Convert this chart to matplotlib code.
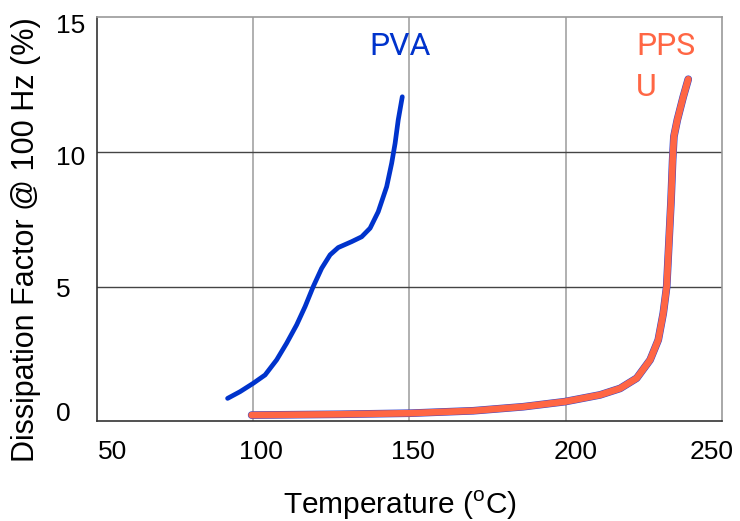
import matplotlib.pyplot as plt
import matplotlib.transforms as mtransforms

# PVA dissipation factor vs temperature
pva_temp = [91.8, 95.8, 100.0, 103.8, 107.5, 110.7, 113.9, 116.6, 119.2, 121.9, 124.6, 127.2,
            131.5, 134.7, 137.4, 140.0, 142.7, 144.3, 145.4, 146.4, 147.7]
pva_df = [0.85, 1.10, 1.41, 1.72, 2.28, 2.90, 3.58, 4.26, 5.00, 5.68, 6.18, 6.45,
          6.67, 6.85, 7.17, 7.78, 8.71, 9.58, 10.32, 11.19, 12.05]

# PPSU dissipation factor vs temperature
ppsu_temp = [99.5, 127.8, 150.2, 170.4, 186.4, 199.8, 211.0, 217.4, 222.7, 227.0, 229.6, 231.2,
             232.3, 233.0, 233.7, 234.2, 234.6, 235.7, 237.6, 239.2]
ppsu_df = [0.23, 0.26, 0.30, 0.39, 0.54, 0.73, 0.98, 1.22, 1.60, 2.28, 3.02, 4.01,
           5.00, 6.61, 8.22, 9.70, 10.57, 11.19, 12.05, 12.70]

x_ticks = [50, 100, 150, 200, 250]
y_ticks = [0, 5, 10, 15]

plt.rcParams['font.family'] = ['Liberation Sans', 'DejaVu Sans']

fig = plt.figure(figsize=(7.4, 5.21), dpi=100)
ax = fig.add_axes([0.131, 0.1914, 0.8447, 0.7754])

ax.plot(pva_temp, pva_df, color='#0033cc', lw=3.4, solid_capstyle='round',
        solid_joinstyle='round', zorder=3)
ax.plot(ppsu_temp, ppsu_df, color='#3344cc', lw=5.5, solid_capstyle='round',
        solid_joinstyle='round', zorder=3)
ax.plot(ppsu_temp, ppsu_df, color='#ff6644', lw=4.8, solid_capstyle='round',
        solid_joinstyle='round', zorder=4)

ax.set_xlim(50, 250)
ax.set_ylim(0, 15)
ax.set_xticks(x_ticks)
ax.set_yticks(y_ticks)
ax.tick_params(length=0, labelbottom=False, labelleft=False)

# tick labels drawn by hand, the original has them slightly off-centre
x_nudge = [16, 8, 3, 10, -10]
for v, dx in zip(x_ticks, x_nudge):
    tr = mtransforms.offset_copy(ax.get_xaxis_transform(), fig, x=dx, y=-31, units='dots')
    ax.text(v, 0, str(v), transform=tr, fontsize=19, ha='center', va='center')

y_nudge = [7, -3, -6, -9]
for v, dy in zip(y_ticks, y_nudge):
    tr = mtransforms.offset_copy(ax.get_yaxis_transform(), fig, x=-41, y=dy, units='dots')
    ax.text(0, v, str(v), transform=tr, fontsize=19, ha='left', va='center')

for v in x_ticks[1:-1]:
    ax.axvline(v, color='#aaaaaa', lw=1.3, zorder=1)
for v in y_ticks[1:-1]:
    ax.axhline(v, color='#444444', lw=1.0, zorder=1)

ax.spines['left'].set_color('#333333')
ax.spines['bottom'].set_color('#333333')
ax.spines['top'].set_color('#999999')
ax.spines['right'].set_color('#999999')
for s in ax.spines.values():
    s.set_linewidth(1.2)

ax.set_xlabel('Temperature ($^\\mathregular{o}$C)', fontsize=21.5)
ax.xaxis.set_label_coords(0.485, -0.168)
ax.set_ylabel('Dissipation Factor @ 100 Hz (%)', fontsize=22)
ax.yaxis.set_label_coords(-0.089, 0.449)

ax.text(147, 13.9, 'PVA', color='#0033cc', fontsize=23, family='Roboto', ha='center', va='center')
ax.text(222.5, 13.9, 'PPS', color='#ff6644', fontsize=23, family='Roboto', ha='left', va='center')
ax.text(222.5, 12.4, 'U', color='#ff6644', fontsize=23, family='Roboto', ha='left', va='center')

fig.savefig('out.png', dpi=100)
